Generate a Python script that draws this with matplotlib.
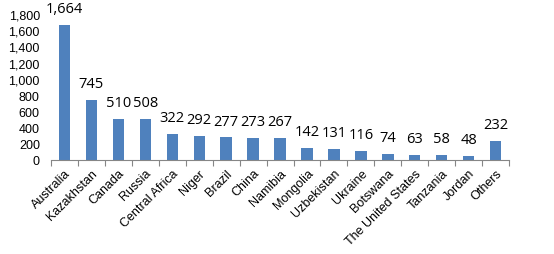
import numpy as np
import matplotlib
matplotlib.use("Agg")
import matplotlib.pyplot as plt

countries = ["Australia", "Kazakhstan", "Canada", "Russia", "Central Africa", "Niger",
             "Brazil", "China", "Namibia", "Mongolia", "Uzbekistan", "Ukraine",
             "Botswana", "The United States", "Tanzania", "Jordan", "Others"]
values = [1664, 745, 510, 508, 322, 292, 277, 273, 267, 142, 131, 116, 74, 63, 58, 48, 232]

BAR = "#4F81BD"

fig = plt.figure(figsize=(5.54, 2.55), dpi=100)
ax = fig.add_axes([0.092, 0.369, 0.827, 0.572])

x = np.arange(len(countries))
ax.bar(x, values, width=0.42, color=BAR)
for xi, v in zip(x, values):
    ax.text(xi, v + 110, f"{v:,}", ha="center", va="bottom", fontsize=10.5,
            family="Open Sans", color="black", clip_on=False)

ax.set_xlim(-0.5, len(countries) - 0.5)
ax.set_ylim(0, 1800)
ax.set_yticks(range(0, 1801, 200))
ax.set_yticklabels([f"{t:,}" for t in range(0, 1801, 200)],
                   fontsize=9, family="Liberation Sans")
ax.tick_params(axis="y", length=0, pad=8)

# category boundary ticks
ax.set_xticks(np.arange(-0.5, len(countries), 1), minor=False)
ax.set_xticklabels([])
ax.tick_params(axis="x", which="major", length=4, color="#868686", direction="out")
ax.set_xticks(x, minor=True)
ax.set_xticklabels(countries, minor=True, rotation=45, ha="right",
                   rotation_mode="anchor", fontsize=9, family="Liberation Sans")
ax.tick_params(axis="x", which="minor", length=0, pad=5)

for s in ["top", "right", "left"]:
    ax.spines[s].set_visible(False)
ax.spines["bottom"].set_color("#868686")

fig.savefig("out.png", dpi=100)
